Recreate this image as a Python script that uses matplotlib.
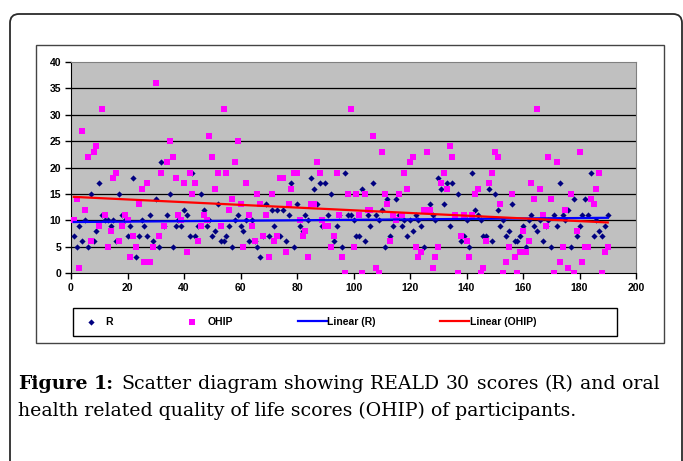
"""Scatter of REALD 30 scores (R) and OHIP scores with linear trends"""

import numpy as np
import matplotlib.pyplot as plt
from matplotlib.patches import FancyBboxPatch, Rectangle
from matplotlib.transforms import IdentityTransform

W, H = 683, 461

R = [7, 5, 9, 6, 10, 5, 15, 6, 8, 17, 11, 10, 10, 9, 10, 6, 15, 11, 10, 7,
     9, 18, 3, 7, 10, 9, 7, 11, 6, 14, 5, 21, 9, 11, 15, 5, 9, 10, 9, 12,
     11, 7, 19, 7, 9, 15, 12, 9, 10, 7, 8, 13, 6, 6, 7, 9, 5, 10, 11, 9,
     8, 10, 6, 10, 6, 5, 3, 7, 13, 7, 12, 9, 12, 7, 12, 6, 11, 17, 5, 13,
     9, 8, 11, 10, 18, 16, 13, 17, 9, 17, 11, 15, 6, 9, 11, 5, 19, 11, 11, 10,
     7, 7, 16, 6, 11, 9, 17, 11, 10, 12, 5, 14, 7, 9, 14, 11, 9, 10, 7, 10,
     8, 11, 10, 9, 5, 12, 13, 11, 10, 18, 16, 13, 17, 9, 17, 11, 15, 6, 7, 10,
     5, 19, 12, 11, 10, 7, 7, 16, 6, 15, 12, 9, 10, 7, 8, 13, 6, 6, 7, 9,
     5, 10, 11, 9, 8, 10, 6, 9, 10, 5, 11, 9, 17, 11, 10, 12, 5, 14, 7, 9,
     11, 14, 11, 19, 7, 10, 8, 7, 9, 11]

OHIP = [10, 14, 1, 27, 12, 22, 6, 23, 24, 9, 31, 11, 5, 8, 18, 19, 6, 9, 11, 10,
        3, 7, 5, 13, 16, 2, 17, 2, 5, 36, 7, 19, 9, 21, 25, 22, 18, 11, 10, 17,
        4, 19, 15, 17, 6, 9, 11, 10, 26, 22, 16, 19, 9, 31, 19, 12, 14, 21, 25, 13,
        5, 17, 11, 9, 6, 15, 13, 7, 11, 3, 15, 6, 7, 18, 18, 4, 13, 16, 19, 19,
        10, 7, 8, 3, 13, 13, 21, 19, 10, 9, 9, 5, 7, 19, 11, 3, 0, 15, 31, 5,
        15, 11, 0, 15, 12, 12, 26, 1, 0, 23, 15, 13, 6, 11, 10, 15, 11, 19, 16, 21,
        22, 5, 3, 4, 12, 23, 12, 1, 3, 5, 17, 19, 16, 24, 22, 11, 0, 7, 11, 6,
        3, 11, 15, 16, 0, 1, 6, 17, 19, 23, 22, 13, 0, 2, 5, 15, 3, 0, 4, 8,
        4, 6, 17, 14, 31, 16, 11, 9, 22, 14, 0, 21, 2, 5, 12, 1, 15, 0, 8, 23,
        2, 5, 5, 14, 13, 16, 19, 0, 4, 5]

X_TICKS = [0, 20, 40, 60, 80, 100, 120, 140, 160, 180, 200]
Y_TICKS = [0, 5, 10, 15, 20, 25, 30, 35, 40]

CAPTION_1 = [("Figure", "bold"), ("1:", "bold"), ("Scatter", "normal"),
             ("diagram", "normal"), ("showing", "normal"), ("REALD", "normal"),
             ("30", "normal"), ("scores", "normal"), ("(R)", "normal"),
             ("and", "normal"), ("oral", "normal")]
CAPTION_2 = "health related quality of life scores (OHIP) of participants."
SERIF = "DejaVu Serif"


def fx(px):
    return px / W


def fy(py):
    return 1 - py / H


fig = plt.figure(figsize=(W / 100, H / 100), dpi=100, facecolor="white")

# outer rounded frame and chart frame
fig.patches.append(FancyBboxPatch((10, -30), 672, H - 14 + 30,
                                  boxstyle="round,pad=0,rounding_size=9",
                                  transform=IdentityTransform(), fill=False,
                                  edgecolor="#2b2b2b", linewidth=1.3))
fig.patches.append(Rectangle((fx(36), fy(343)), fx(664) - fx(36), fy(45) - fy(343),
                             transform=fig.transFigure, fill=False,
                             edgecolor="#444444", linewidth=1.0))
# legend frame
fig.patches.append(Rectangle((fx(73), fy(336)), fx(617) - fx(73), fy(308) - fy(336),
                             transform=fig.transFigure, fill=False,
                             edgecolor="black", linewidth=1.0))

ax = fig.add_axes([fx(71), fy(273), fx(636) - fx(71), fy(62) - fy(273)])
ax.set_facecolor("#c0c0c0")

x = np.arange(1, len(R) + 1)
ax.scatter(x, R, marker="D", s=10, color="#000080", zorder=3, label="R",
           linewidths=0)
ax.scatter(x, OHIP, marker="s", s=16, color="#ff00ff", zorder=3, label="OHIP",
           linewidths=0)

k_r, b_r = np.polyfit(x, R, 1)
k_o, b_o = np.polyfit(x, OHIP, 1)
ax.plot(x, k_r * x + b_r, color="#0000ff", lw=1.6, zorder=4, label="Linear (R)")
ax.plot(x, k_o * x + b_o, color="#ff0000", lw=1.6, zorder=4, label="Linear (OHIP)")

ax.set_xlim(0, 200)
ax.set_ylim(0, 40)
ax.set_xticks(X_TICKS)
ax.set_yticks(Y_TICKS)
for yv in Y_TICKS[1:-1]:
    ax.axhline(yv, color="black", lw=0.9, zorder=1)
ax.tick_params(direction="out", length=4, width=1, pad=3, labelsize=7.5)
for lab in ax.get_xticklabels() + ax.get_yticklabels():
    lab.set_fontweight("bold")
    lab.set_fontfamily("Liberation Sans")
ax.spines["left"].set_color("black")
ax.spines["bottom"].set_color("black")
ax.spines["top"].set_color("#808080")
ax.spines["right"].set_color("#808080")

handles, labels = ax.get_legend_handles_labels()
leg = fig.legend(handles, labels, ncol=4, loc="center left",
                 bbox_to_anchor=(fx(76), fy(322)), frameon=False,
                 handlelength=2.8, handletextpad=0.05, borderaxespad=0,
                 borderpad=0, columnspacing=6.2,
                 prop={"family": "Liberation Sans", "weight": "bold", "size": 7.5})

# caption: size fitted to the second line, first line justified
fig.canvas.draw()
renderer = fig.canvas.get_renderer()
line2 = fig.text(fx(18), fy(411), CAPTION_2, fontsize=13, family=SERIF,
                 va="center", ha="left")
size = 13 * 560 / line2.get_window_extent(renderer).width
line2.set_fontsize(size)
words = []
for word, weight in CAPTION_1:
    t = fig.text(0, fy(384), word, fontsize=size, fontweight=weight,
                 family=SERIF, va="center", ha="left")
    words.append(t)
widths = [t.get_window_extent(renderer).width for t in words]
gap = ((660 - 18) - sum(widths)) / (len(words) - 1)
pos = 18
for t, w in zip(words, widths):
    t.set_x(fx(pos))
    pos += w + gap

fig.savefig("out.png", dpi=100, facecolor="white")
